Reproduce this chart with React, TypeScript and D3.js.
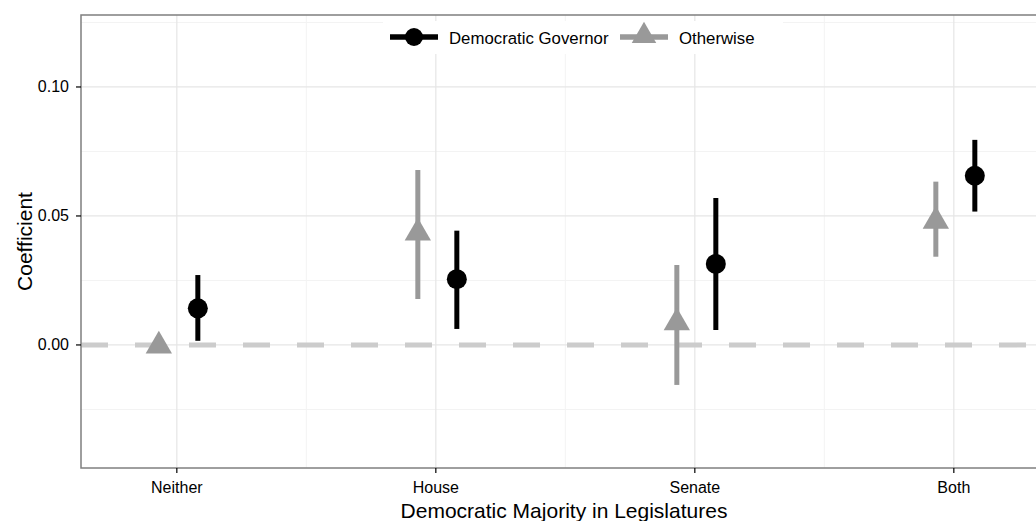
import React from 'react';
import * as d3 from 'd3';

const categories = ['Neither', 'House', 'Senate', 'Both'];
const seriesNames = ['Otherwise', 'Democratic Governor'];
// point estimates and interval bounds, in category order
const otherwiseEst = [0.0, 0.0438, 0.009, 0.0484];
const otherwiseLow = [-0.0005, 0.0178, -0.0155, 0.0342];
const otherwiseHigh = [0.0005, 0.0678, 0.031, 0.0633];
const demEst = [0.0142, 0.0255, 0.0314, 0.0656];
const demLow = [0.0016, 0.0062, 0.0058, 0.0517];
const demHigh = [0.0271, 0.0443, 0.057, 0.0795];
const yTicks = [0.0, 0.05, 0.1];
const yMinor = [-0.025, 0.025, 0.075, 0.125];

const W = 1036;
const H = 521;
const left = 81;
const top = 15;
const bottom = 468;
const font = 'Liberation Sans, Arial, Helvetica, sans-serif';

const App = () => {
    const x = d3.scaleLinear().domain([0.63, 4.37]).range([left, left + 3.74 * 259]);
    const y = d3.scaleLinear().domain([-0.0477, 0.1279]).range([bottom, top]);
    const right = x(4.37);
    const dodge = 19.5;

    const tri = d3.symbol().type(d3.symbolTriangle).size(300);
    const legendTri = d3.symbol().type(d3.symbolTriangle).size(260);

    const series = [
        { name: seriesNames[0], est: otherwiseEst, lo: otherwiseLow, hi: otherwiseHigh, color: '#999999', off: -dodge },
        { name: seriesNames[1], est: demEst, lo: demLow, hi: demHigh, color: '#000000', off: dodge },
    ];

    return (
        <svg width={W} height={H} style={{ position: 'absolute', left: 0, top: 0 }}>
            <rect x={0} y={0} width={W} height={H} fill="#fff" />
            {/* grid */}
            {yMinor.map(v => (
                <line key={'ym' + v} x1={left} x2={right} y1={y(v)} y2={y(v)} stroke="#f3f3f3" strokeWidth={1} />
            ))}
            {[1.5, 2.5, 3.5].map(v => (
                <line key={'xm' + v} x1={x(v)} x2={x(v)} y1={top} y2={bottom} stroke="#f3f3f3" strokeWidth={1} />
            ))}
            {yTicks.map(v => (
                <line key={'y' + v} x1={left} x2={right} y1={y(v)} y2={y(v)} stroke="#e6e6e6" strokeWidth={1.2} />
            ))}
            {categories.map((c, i) => (
                <line key={'x' + c} x1={x(i + 1)} x2={x(i + 1)} y1={top} y2={bottom} stroke="#e6e6e6" strokeWidth={1.2} />
            ))}
            {/* zero reference */}
            <line x1={left} x2={right} y1={y(0)} y2={y(0)} stroke="#cccccc" strokeWidth={5} strokeDasharray="27 27" />
            {/* error bars and points */}
            {series.map(s => (
                <g key={s.name}>
                    {categories.map((c, i) => {
                        const cx = x(i + 1) + 1.5 + s.off;
                        return (
                            <g key={c}>
                                <line x1={cx} x2={cx} y1={y(s.lo[i])} y2={y(s.hi[i])} stroke={s.color} strokeWidth={5} />
                                {s.off < 0 ? (
                                    <path d={tri() as string} transform={`translate(${cx},${y(s.est[i]) + 1})`} fill={s.color} />
                                ) : (
                                    <circle cx={cx} cy={y(s.est[i])} r={10} fill={s.color} />
                                )}
                            </g>
                        );
                    })}
                </g>
            ))}
            {/* legend */}
            <rect x={383} y={21} width={400} height={33} fill="#fff" />
            <line x1={390} x2={438} y1={37} y2={37} stroke="#000" strokeWidth={5.5} />
            <circle cx={414} cy={37} r={9} fill="#000" />
            <text x={449} y={44} fontFamily={font} fontSize={16.8} fill="#000">Democratic Governor</text>
            <line x1={620} x2={668} y1={37} y2={37} stroke="#999999" strokeWidth={5.5} />
            <path d={legendTri() as string} transform="translate(644,36)" fill="#999999" />
            <text x={679} y={44} fontFamily={font} fontSize={16.8} fill="#000">Otherwise</text>
            {/* panel border */}
            <rect x={left} y={top} width={right - left} height={bottom - top} fill="none" stroke="#7f7f7f" strokeWidth={1.5} />
            {/* y axis */}
            {yTicks.map(v => (
                <g key={'yt' + v}>
                    <line x1={left - 5} x2={left} y1={y(v)} y2={y(v)} stroke="#000" strokeWidth={1.2} />
                    <text x={69} y={y(v) + 5.5} textAnchor="end" fontFamily={font} fontSize={16} fill="#000">
                        {d3.format('.2f')(v)}
                    </text>
                </g>
            ))}
            <text transform={`translate(32,${(top + bottom) / 2}) rotate(-90)`} textAnchor="middle" fontFamily={font} fontSize={21} fill="#000">
                Coefficient
            </text>
            {/* x axis */}
            {categories.map((c, i) => (
                <g key={'xt' + c}>
                    <line x1={x(i + 1)} x2={x(i + 1)} y1={bottom} y2={bottom + 5} stroke="#000" strokeWidth={1.2} />
                    <text x={x(i + 1)} y={493} textAnchor="middle" fontFamily={font} fontSize={16} fill="#000">{c}</text>
                </g>
            ))}
            <text x={564} y={518} textAnchor="middle" fontFamily={font} fontSize={21} fill="#000">
                Democratic Majority in Legislatures
            </text>
        </svg>
    );
};

export default App;
